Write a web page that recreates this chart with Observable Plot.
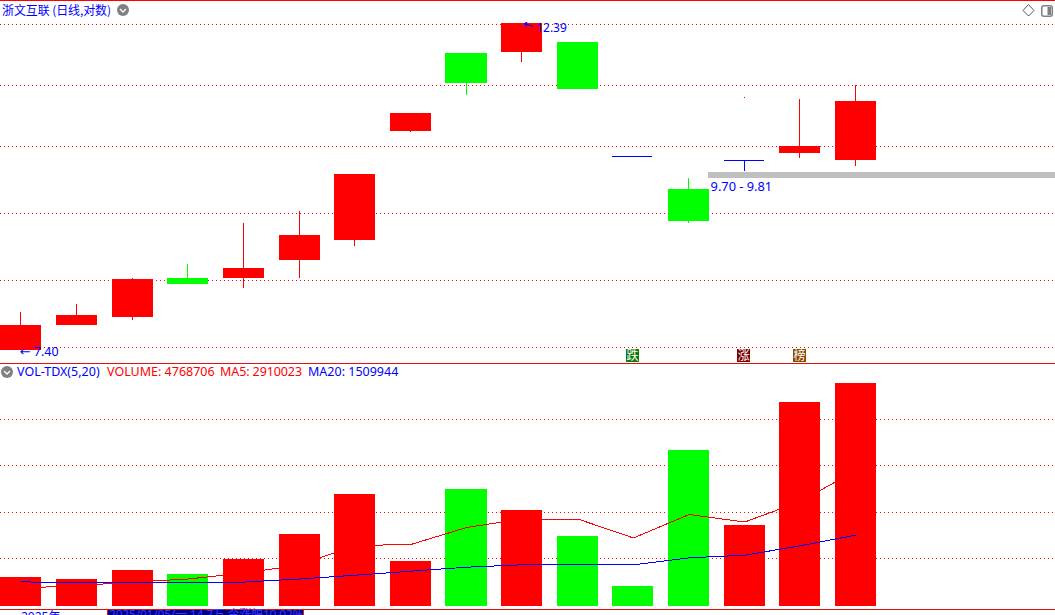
<!DOCTYPE html>
<html>
<head>
<meta charset="utf-8">
<script src="https://cdn.jsdelivr.net/npm/d3@7"></script>
<script src="https://cdn.jsdelivr.net/npm/@observablehq/plot@0.6"></script>
<style>
html,body{margin:0;padding:0;background:#fff;overflow:hidden}
#wrap{position:relative;width:1055px;height:615px;overflow:hidden;font-family:"Noto Sans","Noto Sans CJK SC",sans-serif;font-size:12.5px;line-height:14px}
#wrap>div.chart{position:absolute;left:0}
#wrap svg{display:block}
.t{position:absolute;white-space:nowrap}
.ic{position:absolute}
</style>
</head>
<body>
<div id="wrap">
  <div class="chart" id="top" style="top:0"></div>
  <div class="chart" id="bot" style="top:363px"></div>
  <div class="t" style="left:2px;top:3px;color:#0000ff;font-family:'Noto Sans CJK SC',sans-serif;font-size:12px;letter-spacing:-0.1px">浙文互联 (日线,对数)</div>
  <svg class="ic" style="left:116px;top:3px" width="14" height="14"><circle cx="7" cy="7" r="6" fill="#808080"/><path d="M4 6l3 3 3-3" fill="none" stroke="#fff" stroke-width="1.3"/></svg>
  <svg class="ic" style="left:0;top:365px" width="14" height="14"><circle cx="7" cy="7" r="6" fill="#808080"/><path d="M4 6l3 3 3-3" fill="none" stroke="#fff" stroke-width="1.3"/></svg>
  <svg class="ic" style="left:1022px;top:4px" width="13" height="13"><path d="M6.5 .5L12 6.5 6.5 12 1 6.5z" fill="none" stroke="#555"/></svg>
  <svg class="ic" style="left:1041px;top:5px" width="12" height="12"><rect x=".75" y=".75" width="10.5" height="10.5" rx="2" fill="#fff" stroke="#808080" stroke-width="1.5"/><rect x="6.5" y="2" width="3.5" height="8" fill="#808080"/></svg>
  <div class="t" style="left:17px;top:365px;color:#0000ff">VOL-TDX(5,20)</div>
  <div class="t" style="left:107px;top:365px;color:#ff0000">VOLUME: 4768706</div>
  <div class="t" style="left:220px;top:365px;color:#ff0000;letter-spacing:-0.1px">MA5: 2910023</div>
  <div class="t" style="left:308px;top:365px;color:#0000ff">MA20: 1509944</div>
  <div class="t" style="left:21px;top:610px;color:#0000ff;font-size:12px">2025年</div>
  <div style="position:absolute;left:107px;top:610px;width:195px;height:5px;background:#000080;border-left:1px solid #e81010;border-right:1px solid #e81010"></div>
  <div class="t" style="left:109px;top:608px;color:#3a3aff;font-size:12px;letter-spacing:-0.2px">2025/01/05/一  14.7万  今涨幅10.02%</div>
</div>
<script>
const days = d3.range(16);
const opens  = [7.40, 7.69, 7.79, 8.29, 8.29, 8.53, 8.80, 10.45, 11.82, 11.84, 12.02, 10.05, 9.54, 9.98, 10.09, 9.98];
const closes = [7.70, 7.82, 8.28, 8.21, 8.42, 8.87, 9.77, 10.75, 11.27, 12.39, 11.17, 10.05, 9.07, 9.98, 10.21, 10.96];
const highs  = [7.86, 7.96, 8.29, 8.47, 9.04, 9.21, 9.77, 10.75, 11.82, 12.39, 12.02, 10.05, 9.71, 9.98, 10.99, 11.24];
const lows   = [7.40, 7.69, 7.75, 8.21, 8.16, 8.29, 8.72, 10.43, 11.06, 11.65, 11.17, 10.05, 9.04, 9.81, 10.02, 9.89];
const priceGrid = [12.37, 11.24, 10.21, 9.18, 8.26, 7.43];
const volumes = [620000, 577000, 770000, 684000, 1005000, 1540000, 2395000, 962000, 2502000, 2053000, 1497000, 428000, 3336000, 1732000, 4362000, 4768706];
const volTone = ["up","up","up","down","up","up","up","up","down","up","down","down","down","up","up","up"];
const ma5  = [396000, 443000, 524000, 588000, 716000, 887000, 1304000, 1326000, 1689000, 1871000, 1871000, 1465000, 1967000, 1807000, 2245000, 2910023];
const ma20 = [528000, 503000, 503000, 507000, 522000, 588000, 669000, 755000, 840000, 892000, 892000, 892000, 1041000, 1097000, 1298000, 1529000];
const volGrid = [1026000, 2010000, 3015000, 3999000];
const flags = [{i:11, s:"跌", c:"#0a7a0a"}, {i:13, s:"涨", c:"#7a0000"}, {i:14, s:"榜", c:"#8a4a00"}];

const RED="#ff0000", GREEN="#00ff00", BLUE="#0000ff";
const halfBar = 0.3684;
const xDomain = [-0.37376, 18.584];
const xRange = [0, 1055];
const crisp = {shapeRendering:"crispEdges"};
const toneOf = i => closes[i] > opens[i] ? RED : closes[i] < opens[i] ? GREEN : BLUE;
const bodies = days.filter(i => opens[i] !== closes[i]);
const dojis = days.filter(i => opens[i] === closes[i]);

const topPlot = Plot.plot({
  width:1055, height:363, margin:0,
  x:{type:"linear", domain:xDomain, range:xRange, axis:null},
  y:{type:"log", domain:[12.847,7.247], range:[0,363], axis:null},
  marks:[
    Plot.ruleY(priceGrid,{stroke:RED, strokeWidth:1, strokeDasharray:"1,3", ...crisp}),
    Plot.ruleY([12.847],{stroke:RED, strokeWidth:1, ...crisp}),
    Plot.rect([0],{x1:12.35, x2:18.584, y1:9.71, y2:9.80, fill:"#c0c0c0", ...crisp}),
    Plot.ruleX(days,{x:i=>i, y1:i=>lows[i], y2:i=>highs[i], dx:-0.5, stroke:toneOf, strokeWidth:1, ...crisp}),
    Plot.rect(bodies,{x1:i=>i-halfBar, x2:i=>i+halfBar, y1:i=>opens[i], y2:i=>closes[i], fill:toneOf, ...crisp}),
    Plot.ruleY(dojis,{x1:i=>i-halfBar, x2:i=>i+0.3504, y:i=>opens[i], stroke:BLUE, strokeWidth:1, ...crisp}),
    Plot.ruleX([13],{y1:11.01, y2:11.03, dx:-0.5, stroke:RED, ...crisp}),
    Plot.dot(flags,{x:"i", y:7.336, dx:-1, symbol:"square", r:7.33, fill:"c", stroke:null, ...crisp}),
    Plot.text(flags,{x:"i", y:7.336, dx:-1, text:"s", fill:"#fff", fontSize:12, fontFamily:"Noto Sans CJK SC"}),
    Plot.text(["←"],{x:0, y:7.385, text:d=>d, dx:-1.5, textAnchor:"start", fill:BLUE, fontSize:13, fontFamily:"DejaVu Sans"}),
    Plot.text(["7.40"],{x:0, y:7.385, text:d=>d, dx:12.5, textAnchor:"start", fill:BLUE, fontSize:12.5, fontFamily:"Noto Sans"}),
    Plot.text(["←"],{x:9, y:12.36, text:d=>d, dx:6, rotate:18, fill:BLUE, fontSize:13, fontFamily:"DejaVu Sans"}),
    Plot.text(["12.39"],{x:9, y:12.30, text:d=>d, dx:14, textAnchor:"start", fill:BLUE, fontSize:12, fontFamily:"Noto Sans"}),
    Plot.text(["9.70 - 9.81"],{x:12.35, y:9.57, text:d=>d, dx:2, textAnchor:"start", fill:BLUE, fontSize:12.8, fontFamily:"Noto Sans"})
  ]
});
document.getElementById("top").append(topPlot);

const perPx = 21384;
const botPlot = Plot.plot({
  width:1055, height:252, margin:0,
  x:{type:"linear", domain:xDomain, range:xRange, axis:null},
  y:{type:"linear", domain:[0,243*perPx], range:[243,0], axis:null},
  marks:[
    Plot.ruleY(volGrid,{stroke:RED, strokeWidth:1, strokeDasharray:"1,3", ...crisp}),
    Plot.ruleY([243*perPx],{stroke:"#e01010", strokeWidth:1, ...crisp}),
    Plot.ruleY([-3*perPx],{stroke:"#e01010", strokeWidth:1, ...crisp}),
    Plot.rect(days,{x1:i=>i-halfBar, x2:i=>i+halfBar, y1:0, y2:i=>volumes[i], fill:i=>volTone[i]==="up"?RED:GREEN, ...crisp}),
    Plot.line(days,{x:i=>i, y:i=>ma5[i], stroke:RED, strokeWidth:1, curve:"linear", ...crisp}),
    Plot.line(days,{x:i=>i, y:i=>ma20[i], stroke:BLUE, strokeWidth:1, curve:"linear", ...crisp})
  ]
});
document.getElementById("bot").append(botPlot);
</script>
</body>
</html>
